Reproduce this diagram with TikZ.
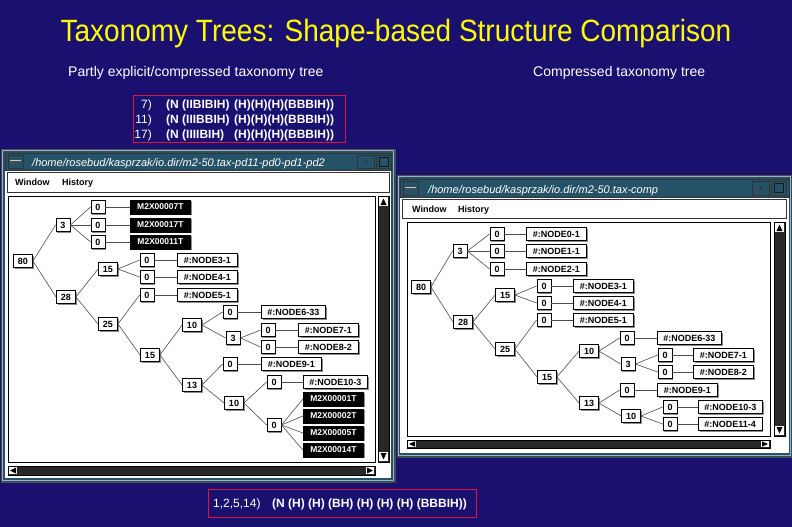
\documentclass[tikz,border=0pt]{standalone}
\usepackage{fontspec}
\setmainfont{Liberation Sans}
\usetikzlibrary{shadows}
\definecolor{bg}{RGB}{26,16,112}
\definecolor{framec}{RGB}{38,82,104}
\definecolor{ttl}{RGB}{255,255,0}
\definecolor{redb}{RGB}{225,20,60}
\definecolor{trough}{RGB}{40,40,40}
\definecolor{shad}{RGB}{140,140,140}
\begin{document}
\begin{tikzpicture}[x=1pt,y=-1pt,
  nb/.style={draw=black, line width=0.8pt, fill=white,
    font=\fontsize{9}{10}\selectfont\bfseries, inner xsep=4.5pt, inner ysep=0pt,
    minimum height=13pt,
    drop shadow={shadow xshift=1.3pt, shadow yshift=-1.3pt, fill=shad, opacity=1}},
  lb/.style={nb, anchor=west, minimum width=60pt, inner xsep=6pt},
  mb/.style={draw=black, fill=black, text=white, line width=0.8pt,
    font=\fontsize{8.5}{10}\selectfont\bfseries, inner ysep=0pt,
    minimum width=60pt, minimum height=14pt, anchor=west,
    drop shadow={shadow xshift=1.3pt, shadow yshift=-1.3pt, fill=shad, opacity=1}},
  ed/.style={draw=black!70, line width=0.6pt},
  wtitle/.style={text=white, font=\fontsize{11}{12}\selectfont\itshape, anchor=base west, inner sep=0pt},
  menu/.style={text=black, font=\fontsize{9}{10}\selectfont\bfseries, anchor=base west, inner sep=0pt},
  wtxt/.style={text=white, font=\fontsize{12}{14}\selectfont, inner sep=0pt},
  btxt/.style={text=white, font=\fontsize{12}{14}\selectfont\bfseries, anchor=base west, inner sep=0pt},
  redbox/.style={draw=redb, line width=1pt}
]
\useasboundingbox (0,0) rectangle (792,527);
\fill[bg] (0,0) rectangle (792,527);

% ---- titles
\node[text=ttl, font=\fontsize{28}{30}\selectfont, anchor=base, inner sep=0pt] (title) at (396,42) {\scalebox{1}[1.1]{Taxonomy Trees: Shape-based Structure Comparison}};
\node[text=white, font=\fontsize{14}{16}\selectfont, anchor=base west, inner sep=0pt] (subl) at (68,77) {Partly explicit/compressed taxonomy tree};
\node[text=white, font=\fontsize{14}{16}\selectfont, anchor=base west, inner sep=0pt] (subr) at (533,77) {Compressed taxonomy tree};

% ---- top red box
\draw[redbox] (133,95) rectangle (345,142);
\node[wtxt, anchor=base east] (n7) at (152,108) {7)};
\node[wtxt, anchor=base east] (n11) at (152,123) {11)};
\node[wtxt, anchor=base east] (n17) at (152,138) {17)};
\node[btxt] (s7a) at (166,108) {(N (IIBIBIH)};
\node[btxt] (s11a) at (166,123) {(N (IIIBBIH)};
\node[btxt] (s17a) at (166,138) {(N (IIIIBIH)};
\node[btxt] (s7b) at (234,108) {(H)(H)(H)(BBBIH))};
\node[btxt] (s11b) at (234,123) {(H)(H)(H)(BBBIH))};
\node[btxt] (s17b) at (234,138) {(H)(H)(H)(BBBIH))};

% ---- bottom red box
\draw[redbox] (208,489) rectangle (476,517);
\node[wtxt, anchor=base west] (bn) at (213,507.5) {1,2,5,14)};
\node[btxt] (bs) at (272,507.5) {(N (H) (H) (BH) (H) (H) (H) (BBBIH))};

% ================= LEFT WINDOW
\fill[framec] (1,149) rectangle (395,482);
\draw[black!70, line width=0.6pt] (1,149) rectangle (395,482);
\draw[white!55!framec, line width=0.5pt] (2.5,150.5) rectangle (393.5,480.5);
\draw[black!80, line width=0.6pt] (5,153) rectangle (391,170);
\draw[black!80] (8,155) rectangle (23,168);
\fill[black!70] (10,160) rectangle (21,162.5);
\draw[white!70!framec] (10,160) -- (21,160);
\draw[black!80] (357,155) rectangle (374,168);
\fill[black!80] (364.5,160.5) rectangle (367,163);
\draw[black!80] (376,155) rectangle (391,168);
\draw[black!90, line width=0.8pt] (379,157.5) rectangle (388.5,166);
\node[wtitle] (ltitle) at (32,166) {/home/rosebud/kasprzak/io.dir/m2-50.tax-pd11-pd0-pd1-pd2};
\fill[white] (5,171) rectangle (391,478);
\draw[black!80, line width=0.6pt] (7,172.5) rectangle (389,192);
\node[menu] (lwin) at (15,185.5) {Window};
\node[menu] (lhis) at (62,185.5) {History};
\draw[black, line width=1pt] (8,196) rectangle (375,462);
\fill[trough] (378,196) rectangle (389,462);
\draw[black] (378,196) rectangle (389,462);
\fill[white] (379,197) rectangle (388,206);
\fill[black] (380.5,205) -- (383.5,198.5) -- (386.5,205) -- cycle;
\fill[white] (379,452) rectangle (388,461);
\fill[black] (380.5,453) -- (386.5,453) -- (383.5,459.5) -- cycle;
\fill[trough] (8,466) rectangle (375,475);
\draw[black] (8,466) rectangle (375,475);
\fill[white] (9,467) rectangle (17,474);
\fill[black] (10,470.5) -- (16,467.5) -- (16,473.5) -- cycle;
\fill[white] (366,467) rectangle (374,474);
\fill[black] (373,470.5) -- (367,467.5) -- (367,473.5) -- cycle;

% left tree nodes
\node[nb] (L80) at (23,261) {80};
\node[nb] (L3) at (63,225) {3};
\node[nb] (L0a) at (98,207) {0};
\node[nb] (L0b) at (98,225) {0};
\node[nb] (L0c) at (98,242) {0};
\node[mb] (LM7) at (130,207) {M2X00007T};
\node[mb] (LM17) at (130,225) {M2X00017T};
\node[mb] (LM11) at (130,242) {M2X00011T};
\node[nb] (L28) at (66,297) {28};
\node[nb] (L15a) at (108,269) {15};
\node[nb] (L0n3) at (147,260) {0};
\node[lb] (Ln3) at (177,260) {\#:NODE3-1};
\node[nb] (L0n4) at (147,277) {0};
\node[lb] (Ln4) at (177,277) {\#:NODE4-1};
\node[nb] (L25) at (108,324) {25};
\node[nb] (L0n5) at (147,295) {0};
\node[lb] (Ln5) at (177,295) {\#:NODE5-1};
\node[nb] (L15b) at (150,355) {15};
\node[nb] (L10a) at (192,325) {10};
\node[nb] (L0n6) at (230,312) {0};
\node[lb] (Ln6) at (261,312) {\#:NODE6-33};
\node[nb] (L3b) at (233,338) {3};
\node[nb] (L0n7) at (268,330) {0};
\node[lb] (Ln7) at (298,330) {\#:NODE7-1};
\node[nb] (L0n8) at (268,347) {0};
\node[lb] (Ln8) at (298,347) {\#:NODE8-2};
\node[nb] (L13) at (192,385) {13};
\node[nb] (L0n9) at (230,364) {0};
\node[lb] (Ln9) at (261,364) {\#:NODE9-1};
\node[nb] (L10b) at (234,403) {10};
\node[nb] (L0n10) at (274,382) {0};
\node[lb] (Ln10) at (303,382) {\#:NODE10-3};
\node[nb] (L0m) at (274,425) {0};
\node[mb] (LM1) at (303,399) {M2X00001T};
\node[mb] (LM2) at (303,416) {M2X00002T};
\node[mb] (LM5) at (303,433) {M2X00005T};
\node[mb] (LM14) at (303,450) {M2X00014T};

\foreach \a/\b in {L80/L3, L80/L28, L3/L0a, L3/L0b, L3/L0c, L0a/LM7, L0b/LM17, L0c/LM11,
  L28/L15a, L28/L25, L15a/L0n3, L15a/L0n4, L0n3/Ln3, L0n4/Ln4, L25/L0n5, L0n5/Ln5,
  L25/L15b, L15b/L10a, L15b/L13, L10a/L0n6, L0n6/Ln6, L10a/L3b, L3b/L0n7, L3b/L0n8,
  L0n7/Ln7, L0n8/Ln8, L13/L0n9, L0n9/Ln9, L13/L10b, L10b/L0n10, L0n10/Ln10, L10b/L0m,
  L0m/LM1, L0m/LM2, L0m/LM5, L0m/LM14}
  \draw[ed] (\a.east) -- (\b.west);

% ================= RIGHT WINDOW
\fill[framec] (397,175) rectangle (792,457);
\draw[black!70, line width=0.6pt] (397,175) rectangle (793,457);
\draw[white!55!framec, line width=0.5pt] (398.5,176.5) rectangle (790.5,455.5);
\draw[black!80, line width=0.6pt] (400,179.5) rectangle (789,197);
\draw[black!80] (403,181) rectangle (418,195);
\fill[black!70] (405,187) rectangle (416,189.5);
\draw[white!70!framec] (405,187) -- (416,187);
\draw[black!80] (752,181) rectangle (769,195);
\fill[black!80] (759.5,186.5) rectangle (762,189);
\draw[black!80] (771,181) rectangle (786,195);
\draw[black!90, line width=0.8pt] (774,183.5) rectangle (783.5,192.5);
\node[wtitle] (rtitle) at (428,193) {/home/rosebud/kasprzak/io.dir/m2-50.tax-comp};
\fill[white] (400,198) rectangle (789,453);
\draw[black!80, line width=0.6pt] (402,199.5) rectangle (786,218);
\node[menu] (rwin) at (412,212) {Window};
\node[menu] (rhis) at (458,212) {History};
\draw[black, line width=1pt] (407,222) rectangle (770,436);
\fill[trough] (774,222) rectangle (785,436);
\draw[black] (774,222) rectangle (785,436);
\fill[white] (775,223) rectangle (784,232);
\fill[black] (776.5,231) -- (779.5,224.5) -- (782.5,231) -- cycle;
\fill[white] (775,426) rectangle (784,435);
\fill[black] (776.5,427) -- (782.5,427) -- (779.5,433.5) -- cycle;
\fill[trough] (407,440) rectangle (770,448);
\draw[black] (407,440) rectangle (770,448);
\fill[white] (408,441) rectangle (416,447);
\fill[black] (409,444) -- (415,441.3) -- (415,446.7) -- cycle;
\fill[white] (761,441) rectangle (769,447);
\fill[black] (768,444) -- (762,441.3) -- (762,446.7) -- cycle;

% right tree nodes
\node[nb] (R80) at (421,287) {80};
\node[nb] (R3) at (460,251) {3};
\node[nb] (R0a) at (497,234) {0};
\node[lb] (Rn0) at (526,234) {\#:NODE0-1};
\node[nb] (R0b) at (497,251) {0};
\node[lb] (Rn1) at (526,251) {\#:NODE1-1};
\node[nb] (R0c) at (497,269) {0};
\node[lb] (Rn2) at (526,269) {\#:NODE2-1};
\node[nb] (R28) at (463,322) {28};
\node[nb] (R15a) at (505,295) {15};
\node[nb] (R0n3) at (544,286) {0};
\node[lb] (Rn3) at (573,286) {\#:NODE3-1};
\node[nb] (R0n4) at (544,303) {0};
\node[lb] (Rn4) at (573,303) {\#:NODE4-1};
\node[nb] (R25) at (505,349) {25};
\node[nb] (R0n5) at (544,320) {0};
\node[lb] (Rn5) at (573,320) {\#:NODE5-1};
\node[nb] (R15b) at (547,377) {15};
\node[nb] (R10a) at (589,351) {10};
\node[nb] (R0n6) at (627,338) {0};
\node[lb] (Rn6) at (657,338) {\#:NODE6-33};
\node[nb] (R3b) at (628,364) {3};
\node[nb] (R0n7) at (665,355) {0};
\node[lb] (Rn7) at (693,355) {\#:NODE7-1};
\node[nb] (R0n8) at (665,372) {0};
\node[lb] (Rn8) at (693,372) {\#:NODE8-2};
\node[nb] (R13) at (589,403) {13};
\node[nb] (R0n9) at (627,390) {0};
\node[lb] (Rn9) at (657,390) {\#:NODE9-1};
\node[nb] (R10b) at (631,416) {10};
\node[nb] (R0n10) at (670,407) {0};
\node[lb] (Rn10) at (698,407) {\#:NODE10-3};
\node[nb] (R0n11) at (670,424) {0};
\node[lb] (Rn11) at (698,424) {\#:NODE11-4};

\foreach \a/\b in {R80/R3, R80/R28, R3/R0a, R3/R0b, R3/R0c, R0a/Rn0, R0b/Rn1, R0c/Rn2,
  R28/R15a, R28/R25, R15a/R0n3, R15a/R0n4, R0n3/Rn3, R0n4/Rn4, R25/R0n5, R0n5/Rn5,
  R25/R15b, R15b/R10a, R15b/R13, R10a/R0n6, R0n6/Rn6, R10a/R3b, R3b/R0n7, R3b/R0n8,
  R0n7/Rn7, R0n8/Rn8, R13/R0n9, R0n9/Rn9, R13/R10b, R10b/R0n10, R0n10/Rn10, R10b/R0n11,
  R0n11/Rn11}
  \draw[ed] (\a.east) -- (\b.west);
\end{tikzpicture}
\end{document}
